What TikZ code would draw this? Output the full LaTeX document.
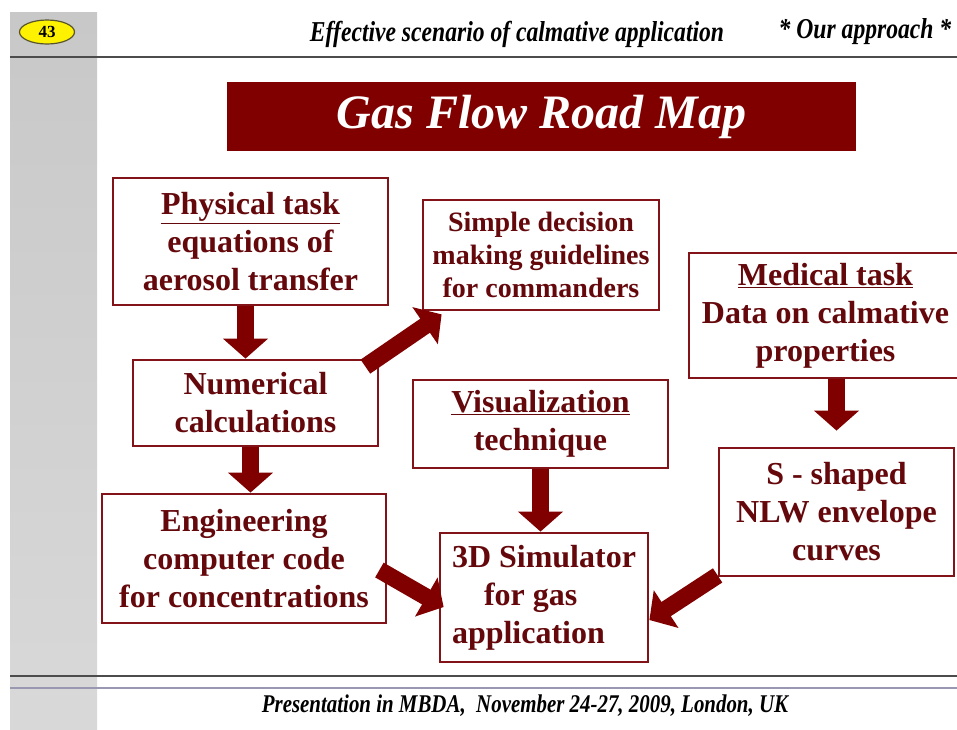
\documentclass[tikz,border=0pt]{standalone}
\usepackage{fontspec}
\setmainfont{Liberation Serif}
\newfontfamily\condfont{Liberation Serif}[FakeStretch=0.82]
\usetikzlibrary{arrows.meta,shapes.geometric}

\definecolor{bannerred}{RGB}{128,0,0}
\definecolor{boxred}{RGB}{130,20,25}
\definecolor{textred}{RGB}{100,8,12}
\definecolor{arrowred}{RGB}{128,0,0}
\definecolor{sidegray}{RGB}{200,200,200}

\tikzset{
  taskbox/.style={draw=boxred, line width=2.8, fill=white, text=textred,
    align=center, inner sep=0, font=\bfseries\fontsize{32}{38}\selectfont},
  bigarrow/.style={draw=arrowred, line width=17,
    -{Triangle[width=44pt,length=20pt]}},
  headtext/.style={font=\condfont\bfseries\itshape\fontsize{28.8}{32}\selectfont}
}

\begin{document}
\begin{tikzpicture}[x=1pt,y=-1pt]

      \useasboundingbox (0,0) rectangle (957,729);

      % slide frame
      \shade[top color=sidegray, bottom color=sidegray!70] (10,12) rectangle (97,729);
      \draw[gray!60!black, line width=2] (10,57) -- (957,57);
      \draw[gray!60!black, line width=2] (10,676) -- (957,676);
      \draw[blue!15!gray!70, line width=1.5] (10,688) -- (957,688);

      \node[ellipse, draw=olive!50!black, fill=yellow, line width=1.2,
        minimum width=55, minimum height=24, inner sep=0,
        font=\bfseries\fontsize{17}{18}\selectfont] (badge) at (47,32) {43};
      \node[headtext] (topic) at (517,34) {Effective scenario of calmative application};
      \node[headtext] (approach) at (865,32) {* Our approach *};
      \node[headtext, font=\condfont\bfseries\itshape\fontsize{25.5}{28}\selectfont]
        (footer) at (525,706) {Presentation in MBDA,\ \ November 24-27, 2009, London, UK};

      \node[fill=bannerred, minimum width=629, minimum height=69, inner sep=0,
        text=white, font=\bfseries\itshape\fontsize{48}{52}\selectfont]
        (banner) at (541.5,116.5) {Gas Flow Road Map};

      \begin{scope}[every node/.style={taskbox}]
        \node[minimum width=275, minimum height=127] (phys) at (250.5,241.5)
          {\underline{Physical task}\\equations of\\aerosol transfer};
        \node[minimum width=236, minimum height=110,
          font=\bfseries\fontsize{28}{33}\selectfont] (simple) at (541,255)
          {Simple decision\\making guidelines\\for commanders};
        \node[minimum width=273, minimum height=125] (medical) at (825.5,315.5)
          {\underline{Medical task}\\Data on calmative\\properties};
        \node[minimum width=245, minimum height=86] (numer) at (255.5,403)
          {Numerical\\calculations};
        \node[minimum width=255, minimum height=88] (visual) at (540.5,424)
          {\underline{Visualization}\\technique};
        \node[minimum width=284, minimum height=129] (engin) at (244,558.5)
          {Engineering\\computer code\\for concentrations};
        \node[minimum width=208, minimum height=129, align=left] (sim) at (544,597.5)
          {3D Simulator\\\hspace*{1em}for gas\\application};
        \node[minimum width=235, minimum height=128] (sshape) at (836.5,512)
          {S - shaped\\NLW envelope\\curves};
      \end{scope}

      \begin{scope}[every edge/.style={bigarrow}]
        \path ([shift={(-5,0)}]phys.south) edge ([shift={(-5,0)}]phys.south |- numer.north);
        \path ([shift={(-5,0)}]numer.south) edge ([shift={(-5,0)}]numer.south |- engin.north);
        \path ([shift={(-14,8)}]numer.north east) edge ([shift={(20,3)}]simple.south west);
        \path (visual.south) edge (visual.south |- sim.north);
        \path (medical.south -| sshape.north) edge ([shift={(0,-16)}]sshape.north);
        \path ([shift={(-8,11.5)}]engin.east) edge ([shift={(5,9.5)}]sim.west);
        \path ([shift={(0,-2)}]sshape.south west) edge ([shift={(0,22.5)}]sim.east);
      \end{scope}

    \end{tikzpicture}
\end{document}
